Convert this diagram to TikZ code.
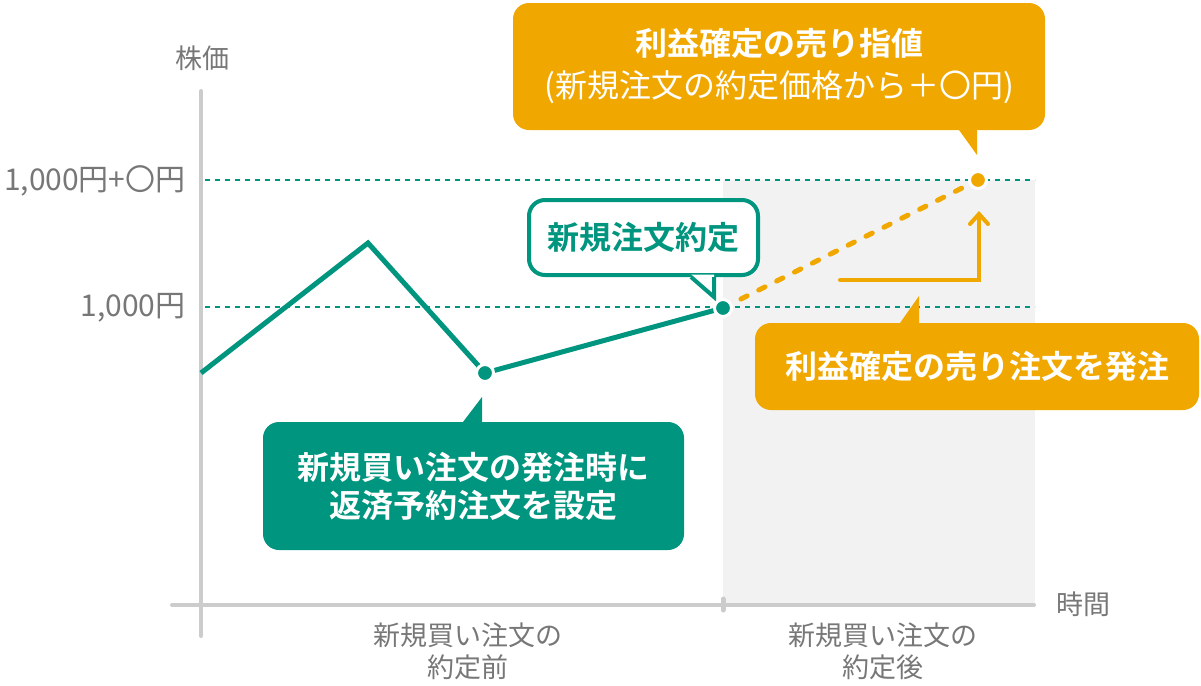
\documentclass[tikz,border=0pt]{standalone}
\usepackage{fontspec}
\setmainfont{Noto Sans CJK JP}[BoldFont={Noto Sans CJK JP Bold}]
\usepackage{xcolor}
\usetikzlibrary{arrows.meta}
\definecolor{TealGreen}{HTML}{00957E}
\definecolor{Amber}{HTML}{F0A800}
\definecolor{AxisGray}{HTML}{CCCCCC}
\definecolor{LabelGray}{HTML}{777777}
\definecolor{ShadeGray}{HTML}{F2F2F2}

\begin{document}
\begin{tikzpicture}[x=0.5pt, y=-0.5pt,
    axislabel/.style={text=LabelGray, font=\fontsize{13.5}{16}\selectfont, inner sep=0pt, align=center},
    levellabel/.style={axislabel, anchor=east, font=\fontsize{15}{18}\selectfont},
    calloutbox/.style={fill=#1, rounded corners=8pt, text=white, inner sep=0pt, align=center,
        font=\bfseries\fontsize{16}{19}\selectfont},
    pricedot/.style={circle, fill=#1, draw=white, line width=1.5pt, minimum size=8.5pt, inner sep=0pt},
    guideline/.style={TealGreen, line width=1pt, dash pattern=on 2.5pt off 2.5pt}]
    \useasboundingbox (0,0) rectangle (1201,686);

    % Shaded area after the fill
    \fill[ShadeGray] (723,180) rectangle (1035,605);

    % Price levels
    \draw[guideline] (205,180) -- (1035,180);
    \draw[guideline] (205,307) -- (1035,307);

    % Axes
    \draw[AxisGray, line width=2pt, line cap=round] (201,91) -- (201,636);
    \draw[AxisGray, line width=2pt, line cap=round] (172,605) -- (1034,605);
    \draw[AxisGray, line width=2.5pt, line cap=round] (723,599) -- (723,610);

    \node[axislabel] (pricelabel) at (202,58) {株価};
    \node[axislabel] (timelabel) at (1083,604) {時間};
    \node[levellabel] (levelhigh) at (186,181) {1,000円+〇円};
    \node[levellabel] (levellow) at (186,308) {1,000円};
    \node[axislabel] (before) at (468,651) {新規買い注文の\\約定前};
    \node[axislabel] (after) at (883,651) {新規買い注文の\\約定後};

    % Price path
    \coordinate (start) at (201,373);
    \coordinate (peak) at (368,243);
    \coordinate (buy) at (485,373);
    \coordinate (fill) at (723,308);
    \coordinate (target) at (978,180);
    \draw[TealGreen, line width=2.5pt] (start) -- (peak) -- (buy) -- (fill);
    \draw[Amber, line width=2.5pt, line cap=round, dash pattern=on 3.5pt off 6.5pt] (fill) -- (target);

    % Rise up to the limit
    \coordinate (risestart) at (840,280);
    \coordinate (riseend) at (979,211);
    \draw[Amber, line width=2pt, line cap=round, -{Straight Barb[length=5pt, width=9pt, line cap=round]}]
        (risestart) -| (riseend);

    % Callouts
    \node[calloutbox=Amber, minimum width=266pt, minimum height=63.5pt,
        font=\bfseries\fontsize{16}{21}\selectfont] (limitbox) at (779,66.5)
        {利益確定の売り指値\\\mdseries(新規注文の約定価格から＋〇円)};
    \fill[Amber] (955.4,125) -- (977,155) -- (977,125) -- cycle;

    \node[draw=TealGreen, line width=2pt, fill=white, rounded corners=8pt, text=TealGreen,
        inner sep=0pt, minimum width=114.5pt, minimum height=37.5pt,
        font=\bfseries\fontsize{16}{19}\selectfont] (fillbox) at (643.5,237.5) {新規注文約定};
    \fill[white] (691,274.5) -- (714,274.5) -- (714,296) -- cycle;
    \draw[TealGreen, line width=2pt] (691,277) -- (714,297) -- (714,277);

    \node[calloutbox=Amber, minimum width=222pt, minimum height=43.5pt] (orderbox) at (977,366.5)
        {利益確定の売り注文を発注};
    \fill[Amber] (896.5,328) -- (919,296) -- (919,328) -- cycle;

    \node[calloutbox=TealGreen, minimum width=210.5pt, minimum height=64pt] (buybox) at (473.5,486)
        {新規買い注文の発注時に\\返済予約注文を設定};
    \fill[TealGreen] (459.2,427) -- (482,397) -- (482,427) -- cycle;

    % Dots
    \node[pricedot=TealGreen] (buydot) at (buy) {};
    \node[pricedot=TealGreen] (filldot) at (fill) {};
    \node[pricedot=Amber] (targetdot) at (target) {};
\end{tikzpicture}
\end{document}
